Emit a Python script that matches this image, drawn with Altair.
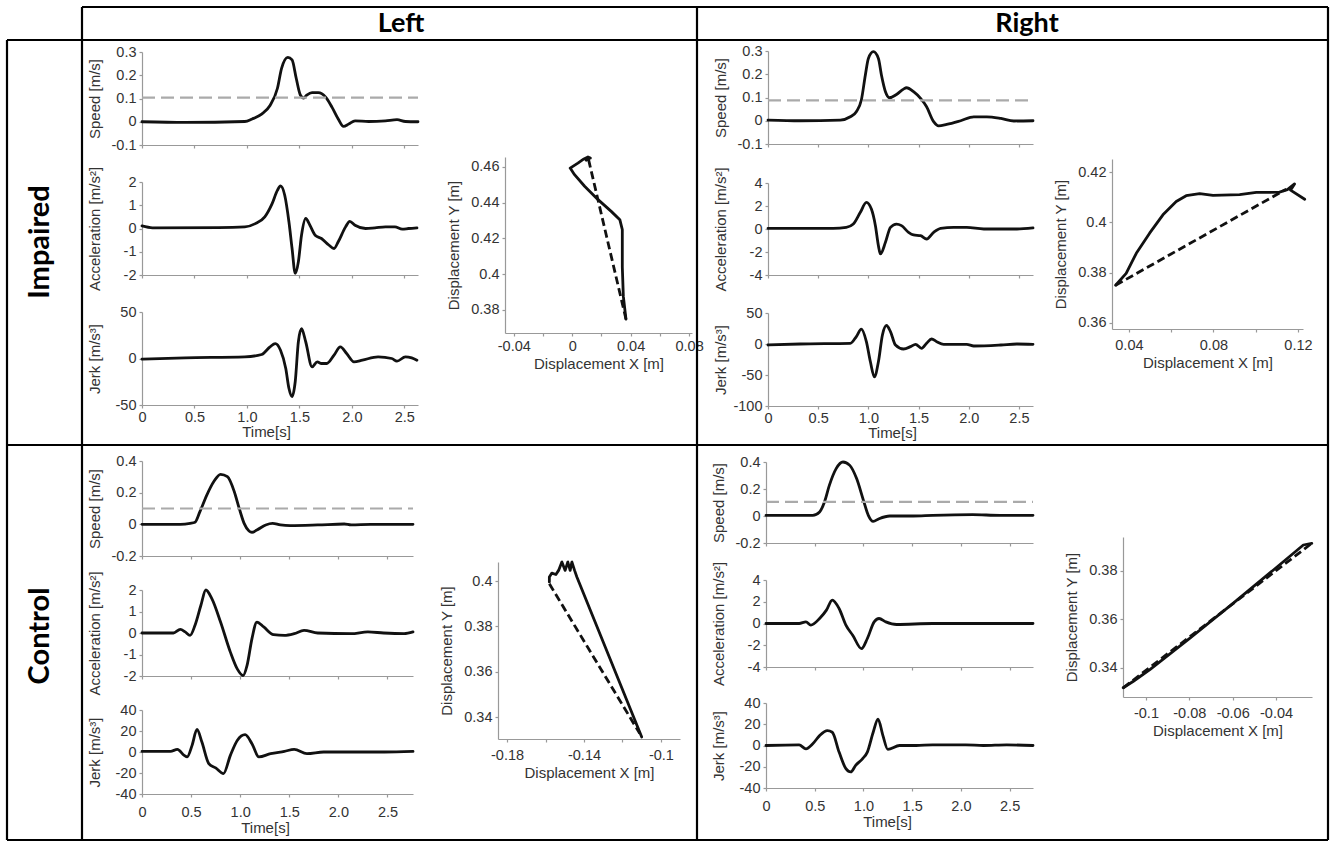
import altair as alt
import pandas as pd

W, H = 1334, 843

# ================= DATA =================
# ---- Impaired / Left ----
IL_T_SPEED = [0, 0.41, 0.98, 1.05, 1.14, 1.22, 1.29, 1.33, 1.39, 1.43, 1.47, 1.51, 1.54, 1.57, 1.62, 1.68, 1.75, 1.81, 1.87, 1.92, 1.97, 2.03, 2.16, 2.32, 2.43, 2.51, 2.63]
IL_SPEED = [0, -0.003, 0.001, 0.012, 0.033, 0.07, 0.143, 0.23, 0.277, 0.266, 0.186, 0.114, 0.102, 0.114, 0.125, 0.125, 0.106, 0.063, 0.012, -0.02, -0.01, 0.004, 0.001, 0.004, 0.009, 0.001, 0]
IL_T_ACC = [0, 0.1, 0.73, 0.98, 1.08, 1.17, 1.24, 1.29, 1.32, 1.36, 1.40, 1.43, 1.46, 1.49, 1.52, 1.56, 1.60, 1.65, 1.71, 1.78, 1.83, 1.87, 1.94, 1.98, 2.03, 2.13, 2.22, 2.32, 2.41, 2.48, 2.54, 2.62]
IL_ACC = [0.11, 0.03, 0.04, 0.07, 0.21, 0.5, 1.07, 1.64, 1.83, 1.43, 0.29, -0.86, -1.93, -1.43, -0.29, 0.43, 0.14, -0.29, -0.43, -0.71, -0.86, -0.57, 0.07, 0.31, 0.14, 0, 0.03, 0.07, 0.07, -0.03, 0, 0.03]
IL_T_JERK = [0, 0.41, 0.98, 1.14, 1.22, 1.27, 1.32, 1.37, 1.40, 1.43, 1.46, 1.49, 1.52, 1.56, 1.62, 1.67, 1.71, 1.76, 1.83, 1.89, 1.95, 2.02, 2.10, 2.25, 2.38, 2.43, 2.51, 2.57, 2.62]
IL_JERK = [-0.7, 0.7, 1.8, 4.3, 12.5, 16, 8.9, -10.7, -32, -41, -25, 18, 32, 18, -9, -3.6, -5.4, -5.4, 3.6, 12.5, 5.4, -3.6, -1.8, 1.8, 0, -2.9, 1.8, 0.7, -1.8]
IL_THRESHOLD = 0.104
IL_PATH_X = [0.0368, 0.035, 0.0343, 0.0343, 0.0326, 0.0269, 0.0177, 0.0085, 0.0016, -0.0014, 0.0039, 0.008, 0.0108, 0.0124, 0.0095]
IL_PATH_Y = [0.3748, 0.3875, 0.404, 0.4249, 0.4305, 0.435, 0.4417, 0.4492, 0.4557, 0.4594, 0.4622, 0.4645, 0.4656, 0.465, 0.4638]
IL_LINE_X = [0.0112, 0.0368]
IL_LINE_Y = [0.4641, 0.3748]

# ---- Impaired / Right ----
IR_T_SPEED = [0, 0.32, 0.72, 0.82, 0.88, 0.93, 0.97, 1.0, 1.05, 1.1, 1.13, 1.17, 1.21, 1.28, 1.35, 1.38, 1.45, 1.52, 1.58, 1.65, 1.70, 1.78, 1.92, 2.05, 2.18, 2.32, 2.45, 2.64]
IR_SPEED = [0.003, 0, 0.003, 0.017, 0.039, 0.089, 0.197, 0.268, 0.297, 0.268, 0.197, 0.125, 0.099, 0.113, 0.136, 0.142, 0.125, 0.096, 0.06, -0.004, -0.022, -0.016, 0, 0.017, 0.017, 0.01, -0.001, 0]
IR_T_ACC = [0, 0.65, 0.78, 0.85, 0.92, 0.98, 1.03, 1.07, 1.10, 1.12, 1.17, 1.22, 1.28, 1.33, 1.40, 1.45, 1.52, 1.58, 1.65, 1.72, 1.85, 1.98, 2.15, 2.32, 2.48, 2.64]
IR_ACC = [0.06, 0.06, 0.14, 0.43, 1.45, 2.31, 1.73, 0.29, -1.45, -2.17, -1.16, 0.14, 0.43, 0.29, -0.29, -0.52, -0.58, -0.87, -0.29, 0.06, 0.14, 0.14, 0, 0, 0, 0.09]
IR_T_JERK = [0, 0.32, 0.82, 0.88, 0.93, 0.98, 1.02, 1.06, 1.10, 1.14, 1.18, 1.22, 1.27, 1.35, 1.42, 1.47, 1.53, 1.58, 1.63, 1.68, 1.75, 1.98, 2.05, 2.32, 2.48, 2.64]
IR_JERK = [-1.6, 0, 1.1, 12, 24, 3.8, -28.7, -53, -28.7, 14.6, 29.8, 20, -1.6, -8.1, -4.3, -0.5, -7.0, 1.1, 8.1, 3.8, -0.5, -0.5, -3.2, -1.6, 0, -0.5]
IR_THRESHOLD = 0.088
IR_PATH_X = [0.0337, 0.0387, 0.0435, 0.0498, 0.0561, 0.0624, 0.0671, 0.0735, 0.0798, 0.0924, 0.1003, 0.1113, 0.115, 0.1184, 0.1165, 0.1232]
IR_PATH_Y = [0.375, 0.3797, 0.3877, 0.3957, 0.403, 0.4083, 0.4106, 0.4114, 0.4107, 0.411, 0.4119, 0.412, 0.413, 0.4153, 0.4128, 0.4092]
IR_LINE_X = [0.0337, 0.1145]
IR_LINE_Y = [0.375, 0.4132]

# ---- Control / Left ----
CL_T_SPEED = [0, 0.39, 0.49, 0.54, 0.59, 0.66, 0.73, 0.80, 0.87, 0.94, 0.99, 1.04, 1.09, 1.12, 1.17, 1.26, 1.33, 1.41, 1.51, 1.79, 2.06, 2.13, 2.33, 2.53, 2.76]
CL_SPEED = [0, 0, 0.006, 0.013, 0.08, 0.185, 0.269, 0.316, 0.301, 0.206, 0.101, 0.006, -0.042, -0.05, -0.036, -0.004, 0.006, -0.004, -0.008, -0.004, 0.002, -0.004, 0, 0, 0]
CL_T_ACC = [0, 0.32, 0.39, 0.44, 0.49, 0.54, 0.60, 0.65, 0.71, 0.80, 0.90, 0.97, 1.03, 1.07, 1.12, 1.17, 1.24, 1.34, 1.45, 1.55, 1.65, 1.79, 2.13, 2.30, 2.46, 2.67, 2.76]
CL_ACC = [0, 0, 0.17, 0.05, -0.11, 0.36, 1.29, 2.0, 1.61, 0.51, -0.89, -1.67, -1.98, -1.51, -0.26, 0.51, 0.28, -0.08, -0.11, -0.03, 0.12, 0, -0.03, 0.05, 0, -0.03, 0.05]
CL_T_JERK = [0, 0.29, 0.36, 0.43, 0.46, 0.51, 0.56, 0.61, 0.68, 0.75, 0.83, 0.90, 0.97, 1.05, 1.12, 1.19, 1.31, 1.45, 1.55, 1.68, 1.85, 2.13, 2.47, 2.76]
CL_JERK = [0.6, 0.6, 2.5, -3.2, -4.7, 6.3, 21.5, 9.5, -11, -15.2, -20.6, -3.2, 11, 16.5, 7.9, -4.7, -1.6, 0.6, 2.5, -1.6, 0, 0, 0, 0.6]
CL_THRESHOLD = 0.1
CL_PATH_X = [-0.110, -0.1437, -0.1449, -0.1463, -0.1472, -0.1484, -0.1498, -0.1515, -0.1532, -0.1546, -0.1567, -0.158, -0.158]
CL_PATH_Y = [0.3312, 0.4018, 0.4047, 0.4084, 0.4047, 0.4084, 0.4047, 0.4084, 0.4047, 0.4029, 0.4035, 0.4018, 0.3996]
CL_LINE_X = [-0.158, -0.111]
CL_LINE_Y = [0.3988, 0.3327]

# ---- Control / Right ----
CR_T_SPEED = [0, 0.48, 0.55, 0.60, 0.65, 0.72, 0.79, 0.86, 0.93, 1.0, 1.05, 1.10, 1.16, 1.27, 1.51, 1.71, 2.12, 2.40, 2.74]
CR_SPEED = [0.005, 0.005, 0.03, 0.104, 0.227, 0.351, 0.4, 0.375, 0.277, 0.116, 0.005, -0.04, -0.02, 0, 0, 0.005, 0.01, 0.005, 0.005]
CR_T_ACC = [0, 0.34, 0.41, 0.46, 0.55, 0.62, 0.68, 0.75, 0.82, 0.89, 0.98, 1.04, 1.11, 1.16, 1.23, 1.34, 1.71, 2.05, 2.40, 2.74]
CR_ACC = [0, 0, 0.15, -0.15, 0.46, 1.23, 2.15, 1.38, -0.15, -1.08, -2.31, -1.38, 0.15, 0.46, 0.15, -0.09, 0, 0, 0, 0]
CR_T_JERK = [0, 0.34, 0.41, 0.48, 0.55, 0.63, 0.68, 0.75, 0.82, 0.87, 0.92, 0.99, 1.04, 1.10, 1.15, 1.20, 1.25, 1.37, 1.54, 1.71, 2.05, 2.23, 2.47, 2.74]
CR_JERK = [0, 0.6, -3.1, 1.6, 9.3, 14, 12.5, -6.2, -21.8, -24.9, -18.7, -12.5, -6.2, 12.5, 24.9, 9.3, -3.7, 0, 0, 0.6, 0.6, 0, 0.6, 0]
CR_THRESHOLD = 0.105
CR_PATH_X = [-0.1105, -0.1058, -0.0982, -0.0797, -0.0597, -0.0412, -0.0274, -0.0235]
CR_PATH_Y = [0.3318, 0.3345, 0.3393, 0.3523, 0.3667, 0.3804, 0.3907, 0.3914]
CR_LINE_X = [-0.1105, -0.0235]
CR_LINE_Y = [0.3318, 0.3914]

TIME_TICKS = [0, 0.5, 1.0, 1.5, 2.0, 2.5]

# ================= STYLE / LAYOUT =================
FONT = "Liberation Sans"
HEAD_FONT = "Lato"
AX = "#999999"
TXT = "#333333"
INK = "#111111"
LABEL_SIZE = 14.5
TITLE_SIZE = 15

TIME_LABELS = "datum.value == 0 ? '0' : format(datum.value, '.1f')"
PLAIN_LABELS = "'' + datum.value"


def sc(dom, rng):
    return alt.Scale(domain=list(dom), range=list(rng), nice=False, zero=False)


def y_axis(x0, ticks, title, title_x=-40):
    return alt.Axis(orient="left", offset=-x0, values=ticks, labelExpr=PLAIN_LABELS,
                    title=title, titleX=title_x, tickSize=3, labelPadding=3,
                    labelFlush=False, labelOverlap=False, grid=False)


def x_axis(ybot, ticks, labelExpr=None, title=None, titleX=None, titleY=None,
           labelPadding=3, titlePadding=4):
    kw = dict(orient="bottom", offset=ybot - H, values=ticks, tickSize=3,
              labelFlush=False, labelOverlap=False, grid=False,
              labelPadding=labelPadding, titlePadding=titlePadding)
    if labelExpr is None:
        kw["labels"] = False
    else:
        kw["labelExpr"] = labelExpr
    kw["title"] = title
    if titleX is not None:
        kw["titleX"] = titleX
    if titleY is not None:
        kw["titleY"] = titleY
    return alt.Axis(**kw)


def line(xs, ys, xscale, yscale, xaxis=None, yaxis=None, color=INK, width=2.8,
         dash=None, interp="monotone", ordered=False):
    df = pd.DataFrame({"x": xs, "y": ys, "i": list(range(len(xs)))})
    mk = dict(color=color, strokeWidth=width, interpolate=interp, strokeCap="round",
              strokeJoin="round")
    if dash:
        mk["strokeDash"] = dash
        mk["strokeCap"] = "butt"
    enc = dict(
        x=alt.X("x:Q", scale=xscale, axis=xaxis),
        y=alt.Y("y:Q", scale=yscale, axis=yaxis),
    )
    if ordered:
        enc["order"] = alt.Order("i:Q")
    return alt.Chart(df).mark_line(**mk).encode(**enc)


layers = []


def add_cell(t_s, v_s, t_a, v_a, t_j, v_j, thr, tmax, xr,
             sp_dom, sp_r, sp_ticks, ac_dom, ac_r, ac_ticks, jk_dom, jk_r, jk_ticks,
             time_title_x, time_title_y, time_label_pad,
             px, py, lx, ly, xy_xdom, xy_xr, xy_ydom, xy_yr, xy_xticks, xy_xlabels, xy_yticks,
             xy_label_pad):
    xs = sc([0, tmax], xr)
    # speed
    ys = sc(sp_dom, sp_r)
    layers.append(line(t_s, v_s, xs, ys, xaxis=x_axis(sp_r[0], TIME_TICKS),
                       yaxis=y_axis(xr[0], sp_ticks, "Speed [m/s]")))
    layers.append(line([0, tmax], [thr, thr], xs, ys, color="#aaaaaa", width=2.2,
                       dash=[13, 6], interp="linear"))
    # acceleration
    ya = sc(ac_dom, ac_r)
    layers.append(line(t_a, v_a, xs, ya, xaxis=x_axis(ac_r[0], TIME_TICKS),
                       yaxis=y_axis(xr[0], ac_ticks, "Acceleration [m/s²]")))
    # jerk
    yj = sc(jk_dom, jk_r)
    layers.append(line(t_j, v_j, xs, yj,
                       xaxis=x_axis(jk_r[0], TIME_TICKS, labelExpr=TIME_LABELS, title="Time[s]",
                                    titleX=time_title_x, titleY=time_title_y,
                                    labelPadding=time_label_pad),
                       yaxis=y_axis(xr[0], jk_ticks, "Jerk [m/s³]")))
    # displacement path
    dxs = sc(xy_xdom, xy_xr)
    dys = sc(xy_ydom, xy_yr)
    lab = "indexof([" + ",".join(str(v) for v in xy_xlabels) + "], datum.value) >= 0 ? '' + datum.value : ''"
    layers.append(line(px, py, dxs, dys,
                       xaxis=x_axis(xy_yr[0], xy_xticks, labelExpr=lab, title="Displacement X [m]",
                                    labelPadding=xy_label_pad),
                       yaxis=y_axis(xy_xr[0], xy_yticks, "Displacement Y [m]", title_x=-44),
                       interp="linear", ordered=True))
    layers.append(line(lx, ly, dxs, dys, dash=[8, 4], interp="linear", ordered=True))


# Impaired / Left
add_cell(IL_T_SPEED, IL_SPEED, IL_T_ACC, IL_ACC, IL_T_JERK, IL_JERK, IL_THRESHOLD, 2.63, (142, 418),
         (-0.1, 0.3), (145, 52), [-0.1, 0, 0.1, 0.2, 0.3],
         (-2, 2), (275, 182), [-2, -1, 0, 1, 2],
         (-50, 50), (405, 312), [-50, 0, 50],
         266, 19, 2,
         IL_PATH_X, IL_PATH_Y, IL_LINE_X, IL_LINE_Y,
         (-0.046, 0.082), (505, 692), (0.367, 0.4656), (333, 157),
         [-0.04, -0.02, 0, 0.02, 0.04, 0.06, 0.08], [-0.04, 0, 0.04, 0.08],
         [0.38, 0.4, 0.42, 0.44, 0.46], 3)

# Impaired / Right
add_cell(IR_T_SPEED, IR_SPEED, IR_T_ACC, IR_ACC, IR_T_JERK, IR_JERK, IR_THRESHOLD, 2.64, (768, 1033),
         (-0.1, 0.3), (144, 51), [-0.1, 0, 0.1, 0.2, 0.3],
         (-4, 4), (275, 183), [-4, -2, 0, 2, 4],
         (-100, 50), (406, 313), [-100, -50, 0, 50],
         892, 19, 2,
         IR_PATH_X, IR_PATH_Y, IR_LINE_X, IR_LINE_Y,
         (0.032, 0.1224), (1112, 1303), (0.3576, 0.4252), (329, 159),
         [0.04, 0.06, 0.08, 0.1, 0.12], [0.04, 0.08, 0.12],
         [0.36, 0.38, 0.4, 0.42], 6)

# Control / Left
add_cell(CL_T_SPEED, CL_SPEED, CL_T_ACC, CL_ACC, CL_T_JERK, CL_JERK, CL_THRESHOLD, 2.76, (142, 413),
         (-0.2, 0.4), (556, 461), [-0.2, 0, 0.2, 0.4],
         (-2, 2), (676, 590), [-2, -1, 0, 1, 2],
         (-40, 40), (794, 710), [-40, -20, 0, 20, 40],
         265, 26, 8,
         CL_PATH_X, CL_PATH_Y, CL_LINE_X, CL_LINE_Y,
         (-0.1847, -0.0901), (498, 680), (0.3303, 0.4084), (739, 562),
         [-0.18, -0.16, -0.14, -0.12, -0.1], [-0.18, -0.14, -0.1],
         [0.34, 0.36, 0.38, 0.4], 6)

# Control / Right
add_cell(CR_T_SPEED, CR_SPEED, CR_T_ACC, CR_ACC, CR_T_JERK, CR_JERK, CR_THRESHOLD, 2.74, (766, 1033),
         (-0.2, 0.4), (543, 462), [-0.2, 0, 0.2, 0.4],
         (-4, 4), (667, 580), [-4, -2, 0, 2, 4],
         (-40, 40), (788, 703), [-40, -20, 0, 20, 40],
         887, 26, 8,
         CR_PATH_X, CR_PATH_Y, CR_LINE_X, CR_LINE_Y,
         (-0.1106, -0.0234), (1123, 1312), (0.328, 0.394), (697, 537),
         [-0.1, -0.08, -0.06, -0.04], [-0.1, -0.08, -0.06, -0.04],
         [0.34, 0.36, 0.38], 6)

# ================= TABLE FRAME & HEADINGS =================
one = pd.DataFrame({"k": [0]})
H_RULES = [(7, 82, 1328), (40, 7, 1328), (445, 7, 1328), (840, 7, 1328)]
V_RULES = [(7, 40, 840), (82, 7, 840), (697, 7, 840), (1328, 7, 840)]
for (yy, xa, xb) in H_RULES:
    layers.append(alt.Chart(one).mark_rule(color="black", strokeWidth=2.2).encode(
        x=alt.value(xa), x2=alt.value(xb), y=alt.value(yy)))
for (xx, ya, yb) in V_RULES:
    layers.append(alt.Chart(one).mark_rule(color="black", strokeWidth=2.2).encode(
        x=alt.value(xx), y=alt.value(ya), y2=alt.value(yb)))

HEADERS = [("Left", 401, 24, 0, 27), ("Right", 1027, 24, 0, 27),
           ("Impaired", 40, 242, 270, 29), ("Control", 40, 636, 270, 29)]
for (txt, hx, hy, ang, fs) in HEADERS:
    layers.append(alt.Chart(one).mark_text(text=txt, font=HEAD_FONT, fontWeight="bold",
                                           fontSize=fs, angle=ang, color="black",
                                           align="center", baseline="middle").encode(
        x=alt.value(hx), y=alt.value(hy)))

chart = alt.layer(*layers).resolve_scale(x="independent", y="independent").properties(
    width=W, height=H, padding=0, autosize=alt.AutoSizeParams(type="none"),
    background="white",
).configure_view(stroke=None).configure_axis(
    domainColor=AX, tickColor=AX, labelColor=TXT, titleColor=TXT,
    labelFont=FONT, titleFont=FONT, labelFontSize=LABEL_SIZE, titleFontSize=TITLE_SIZE,
    titleFontWeight="normal", domainWidth=1.2, tickWidth=1.2,
)

chart.save("out.html", embed_options={"renderer": "svg", "actions": False})
